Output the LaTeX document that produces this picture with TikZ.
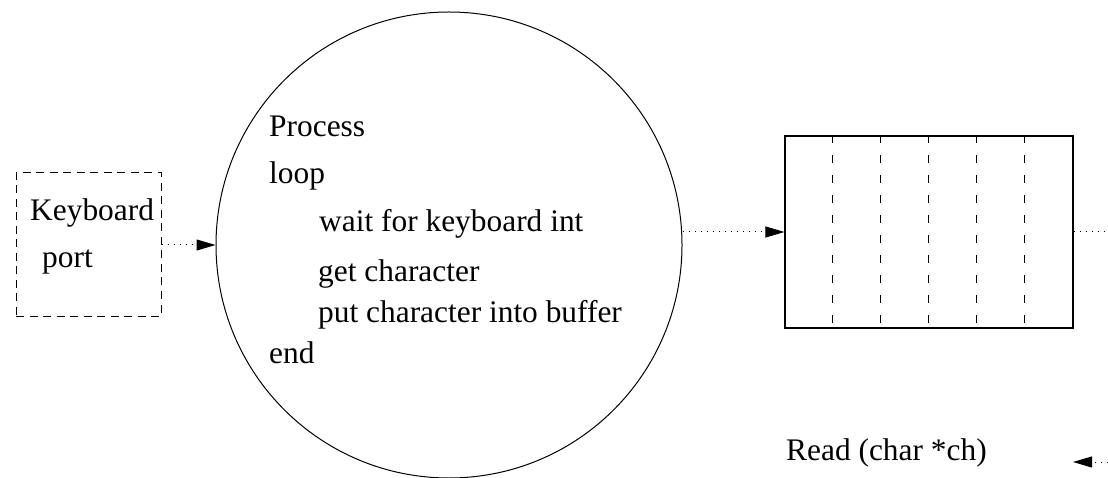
\documentclass[tikz,border=0pt]{standalone}
\usepackage{fontspec}
\setmainfont{Liberation Serif}
\usetikzlibrary{arrows.meta}
\begin{document}
\begin{tikzpicture}[x=1pt,y=-1pt,
  txt/.style={anchor=base west, inner sep=0pt, font=\fontsize{31.4}{36}\selectfont},
  dotline/.style={line width=1pt, dash pattern=on 1.2pt off 4.8pt},
  flow/.style={dotline, -{Triangle[length=19pt,width=11pt]}},
  thin/.style={line width=1pt}]
\useasboundingbox (0,0) rectangle (1108,478);
% keyboard port box
\node[draw, thin, dash pattern=on 8pt off 5.5pt, minimum width=145pt, minimum height=143pt, inner sep=0pt] (kbd) at (88.5,244.5) {};
\node[txt] (kbdt) at (30,221) {Keyboard};
\node[txt] (kbdp) at (42,268) {port};
% process circle
\node[circle, draw, thin, minimum size=466pt, inner sep=0pt] (proc) at (449,245) {};
\node[txt] (t1) at (269,137) {Process};
\node[txt] (t2) at (269,184) {loop};
\node[txt] (t3) at (319,232) {wait for keyboard int};
\node[txt] (t4) at (318,282) {get character};
\node[txt] (t5) at (318,323) {put character into buffer};
\node[txt] (t6) at (269,363) {end};
% buffer
\node[draw, line width=1.1pt, minimum width=288pt, minimum height=192pt, inner sep=0pt] (buf) at (929,232) {};
\foreach \i in {1,...,5} {
  \draw[line width=1pt, dash pattern=on 8pt off 12pt] ([xshift=48*\i pt]buf.north west) -- ([xshift=48*\i pt]buf.south west);
}
% read label
\node[txt] (rd) at (786,460) {Read (char *ch)};
% connectors
\draw[flow] (kbd.east |- proc.west) -- (proc.west);
\draw[flow] (proc.east |- buf.west) -- (buf.west);
\coordinate (outr) at (1108,232);
\draw[dotline] (buf.east) -- (outr);
\coordinate (rin) at (1108,462);
\coordinate (rtip) at (1073,462);
\draw[flow] (rin) -- (rtip);
\end{tikzpicture}
\end{document}
